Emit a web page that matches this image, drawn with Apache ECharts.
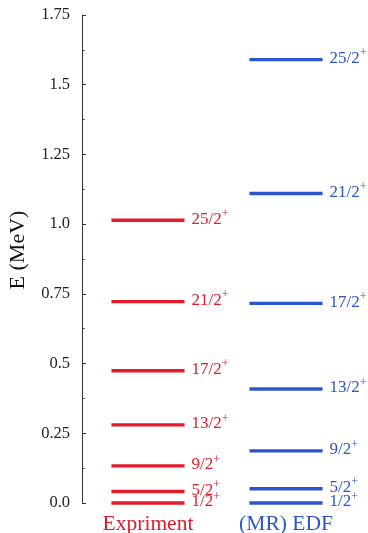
<!DOCTYPE html>
<html><head><meta charset="utf-8">
<script src="https://cdn.jsdelivr.net/npm/echarts@6/dist/echarts.min.js"></script>
<style>html,body{margin:0;padding:0;background:#fff}#c{width:368px;height:533px}</style>
</head><body><div id="c"></div>
<script>
const categories = ['Expriment', '(MR) EDF'];
const expSpins = ['1/2', '5/2', '9/2', '13/2', '17/2', '21/2', '25/2'];
const expEnergies = [0.0, 0.041, 0.133, 0.280, 0.474, 0.722, 1.014];
const edfSpins = ['1/2', '5/2', '9/2', '13/2', '17/2', '21/2', '25/2'];
const edfEnergies = [0.0, 0.051, 0.187, 0.409, 0.716, 1.110, 1.590];
const yTickLabels = {0: '0.0', 0.25: '0.25', 0.5: '0.5', 0.75: '0.75', 1: '1.0', 1.25: '1.25', 1.5: '1.5', 1.75: '1.75'};

const RED = '#e31b2b';
const BLUE = '#2b55cf';
const FONT = '"Liberation Serif", "DejaVu Serif", serif';

function levelData(catIdx, spins, energies) {
  return energies.map((e, i) => [catIdx, e, spins[i]]);
}

function makeRender(color) {
  return function (params, api) {
    const cat = api.value(0), e = api.value(1), spin = api.value(2);
    const c = api.coord([cat, e]);
    const bw = api.size([1, 0])[0];
    const half = bw * 0.265;
    return {
      type: 'group',
      children: [
        { type: 'line', shape: { x1: c[0] - half, y1: c[1], x2: c[0] + half, y2: c[1] },
          style: { stroke: color, lineWidth: 3.4 } },
        { type: 'text', x: c[0] + half + 7, y: c[1] - 2.5,
          style: { text: '{n|' + spin + '}{s|+}', fill: color, verticalAlign: 'middle', align: 'left',
            rich: {
              n: { fontFamily: FONT, fontSize: 17, fill: color, lineHeight: 20, verticalAlign: 'bottom' },
              s: { fontFamily: FONT, fontSize: 12, fill: color, lineHeight: 20, verticalAlign: 'top', padding: [0, 0, 7, 0] }
            } } }
      ]
    };
  };
}

const chart = echarts.init(document.getElementById('c'), null, { renderer: 'canvas' });
chart.setOption({
  animation: false,
  backgroundColor: '#fff',
  grid: { left: 79, width: 276, top: 15, height: 488, containLabel: false, outerBoundsMode: 'none' },
  xAxis: {
    type: 'category', data: categories,
    axisLine: { show: false }, axisTick: { show: false },
    axisLabel: {
      interval: 0, hideOverlap: false,
      margin: 10, fontFamily: FONT, fontSize: 21.5,
      formatter: (v, i) => '{c' + i + '|' + v + '}',
      rich: { c0: { color: RED, fontFamily: FONT, fontSize: 21.5 }, c1: { color: BLUE, fontFamily: FONT, fontSize: 21.5 } }
    }
  },
  yAxis: {
    type: 'value', min: 0, max: 1.75, interval: 0.25, offset: -3,
    name: 'E (MeV)', nameLocation: 'middle', nameRotate: 90, nameGap: 53,
    nameTextStyle: { fontFamily: FONT, fontSize: 22, color: '#111', padding: [0, 0, 0, 18] },
    axisLine: { show: true, lineStyle: { color: '#333', width: 1 } },
    axisTick: { show: true, inside: true, length: 4, lineStyle: { color: '#333' } },
    minorTick: { show: true, splitNumber: 2, length: 2.5, lineStyle: { color: '#333' } },
    splitLine: { show: false },
    axisLabel: { margin: 12, fontFamily: FONT, fontSize: 16.5, color: '#222',
      formatter: v => yTickLabels[Math.round(v * 100) / 100] ?? String(v) }
  },
  series: [
    { type: 'custom', renderItem: makeRender(RED), data: levelData(0, expSpins, expEnergies), encode: { x: 0, y: 1 } },
    { type: 'custom', renderItem: makeRender(BLUE), data: levelData(1, edfSpins, edfEnergies), encode: { x: 0, y: 1 } }
  ]
});
</script></body></html>
